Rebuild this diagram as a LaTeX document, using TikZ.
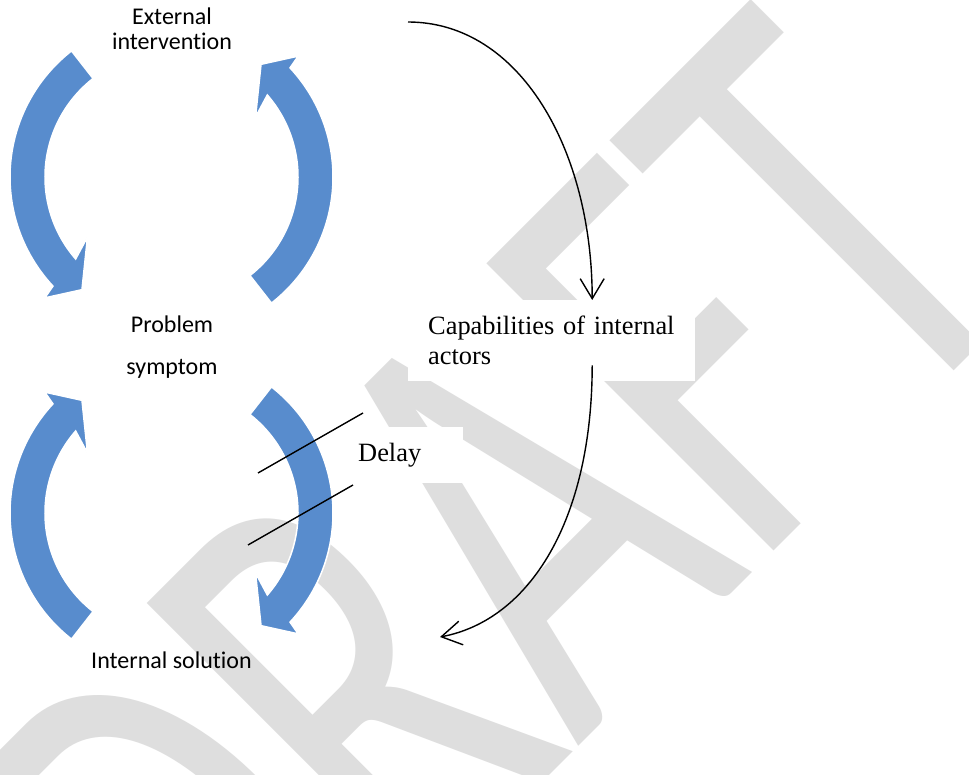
\documentclass[tikz,border=0pt]{standalone}
\usepackage{fontspec}
\usepackage{graphicx}
\usetikzlibrary{arrows.meta}
\newfontfamily\calfont[Ligatures={NoCommon}]{Carlito}
\newfontfamily\timesfont{Liberation Serif}
\definecolor{wmgray}{RGB}{222,222,222}
\definecolor{arrowblue}{RGB}{88,140,205}
\tikzset{
  carrow/.pic={
    \path[bluearrow] (128:160) arc[start angle=128, end angle=223, radius=160]
      -- (224:174) -- (232:143) -- (216:102) -- (221:125)
      arc[start angle=221, end angle=128, radius=125] -- cycle;
  }
}
\begin{document}
\begin{tikzpicture}[x=1pt,y=1pt,
  calibri/.style={font=\calfont\fontsize{24}{25}\selectfont, inner sep=0pt, align=center},
  roman/.style={font=\timesfont\fontsize{26.4}{30}\selectfont},
  whitebox/.style={fill=white, draw=none, rectangle},
  bluearrow/.style={fill=arrowblue, draw=white, line width=1.5pt, line join=miter},
  conn/.style={draw=black, line width=1.4pt, -{Straight Barb[length=20pt,width=24pt]}},
  delayline/.style={draw=black, line width=1.4pt}]
\useasboundingbox (0,0) rectangle (969,-775);
\clip (0,0) rectangle (969,-775);
\fill[white] (0,0) rectangle (969,-775);
% watermark
\node[rotate=45, anchor=base west, inner sep=0pt, text=wmgray,
      font=\calfont\fontsize{633}{633}\selectfont] (wm) at (225,-1100)
      {\scalebox{0.68}[1]{DRAFT}};
% white label boxes
\node[whitebox, roman, text width=247pt, inner xsep=20pt, inner ysep=0pt,
      minimum height=81pt, align=left, anchor=north west] (cap) at (408,-300)
      {\mbox{Capabilities of internal}\\actors};
\node[whitebox, roman, text width=92pt, inner xsep=13pt, inner ysep=0pt,
      minimum height=56pt, align=left, anchor=north west] (delay) at (345,-427)
      {Delay};
% blue loop arrows
\pic at (170,-177) {carrow};
\pic[rotate=180] at (173,-177) {carrow};
\pic[yscale=-1] at (170,-513) {carrow};
\pic[xscale=-1] at (173,-513) {carrow};
% texts (base anchor = baseline of the last line)
\node[calibri, anchor=base] (ext) at (172,-50) {External\\intervention};
\node[calibri, font=\calfont\fontsize{24}{42}\selectfont, anchor=base] (prob) at (172,-374) {Problem\\symptom};
\node[calibri, anchor=base] (intsol) at (171.5,-668) {Internal solution};
% delay marks
\draw[delayline] (258,-473) -- (363,-413);
\draw[delayline] (248,-545) -- (353,-485);
% connectors
\coordinate (s1) at (408,-22);
\draw[conn] (s1) .. controls (520,-22) and (592,-150) .. ([xshift=40.5pt]cap.north);
\coordinate (e2) at (440,-637);
\draw[conn] ([xshift=40.5pt,yshift=16pt]cap.south) .. controls (592,-520) and (530,-620) .. (e2);
\end{tikzpicture}
\end{document}
